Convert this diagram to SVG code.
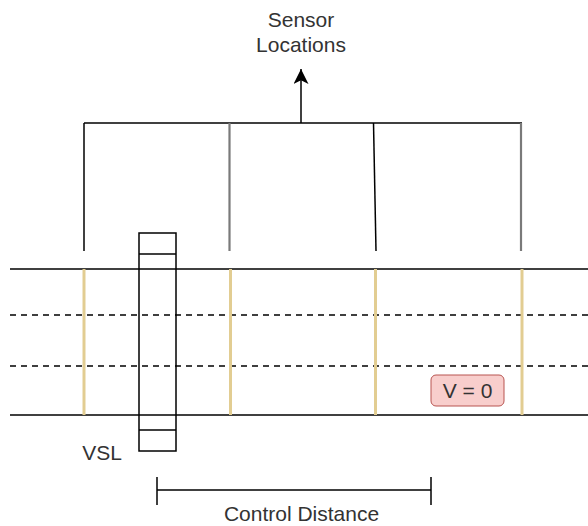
<svg xmlns="http://www.w3.org/2000/svg" width="588" height="526" viewBox="0 0 588 526">
<style>
  .t { font-family: "Liberation Sans", Arial, sans-serif; font-size: 21px; fill: #333333; }
  .blk { stroke: #000000; stroke-width: 1.5; fill: none; }
  .gray { stroke: #7a7a7a; stroke-width: 2.2; fill: none; }
  .dash { stroke: #000000; stroke-width: 1.5; stroke-dasharray: 6 5; fill: none; }
  .yel { stroke: #e2cd92; stroke-width: 3; fill: none; }
</style>
<defs>
  <marker id="arr" markerWidth="15" markerHeight="15" refX="10" refY="5" orient="auto" markerUnits="userSpaceOnUse" viewBox="0 0 10 10">
    <path d="M0,0 L10,5 L0,10 L2.5,5 Z" fill="#000"/>
  </marker>
</defs>
<rect width="588" height="526" fill="#ffffff"/>
<g id="road">
  <line class="blk" x1="10" y1="269" x2="588" y2="269"/>
  <line class="blk" x1="10" y1="415" x2="588" y2="415"/>
  <line class="dash" x1="10" y1="315" x2="588" y2="315"/>
  <line class="dash" x1="10" y1="366" x2="588" y2="366"/>
</g>
<g id="detectors">
  <line class="yel" x1="84" y1="269" x2="84" y2="415"/>
  <line class="yel" x1="230.5" y1="269" x2="230.5" y2="415"/>
  <line class="yel" x1="375.5" y1="269" x2="375.5" y2="415"/>
  <line class="yel" x1="522" y1="269" x2="522" y2="415"/>
</g>
<g id="vsl">
  <rect x="139" y="233" width="37" height="218" fill="none" stroke="#000" stroke-width="1.5"/>
  <line class="blk" x1="139" y1="254" x2="176" y2="254"/>
  <line class="blk" x1="139" y1="430" x2="176" y2="430"/>
  <text class="t" x="102" y="460" text-anchor="middle">VSL</text>
</g>
<g id="v0">
  <rect x="431" y="375" width="73" height="31" rx="5" fill="#f8cecc" stroke="#b85450" stroke-width="1"/>
  <text class="t" x="467.5" y="398" text-anchor="middle">V = 0</text>
</g>
<g id="sensor-label">
  <text class="t" x="301" y="27" text-anchor="middle">Sensor</text>
  <text class="t" x="301" y="52" text-anchor="middle">Locations</text>
</g>
<g id="connectors">
  <line class="blk" x1="84" y1="123" x2="522" y2="123"/>
  <line class="blk" x1="84" y1="123" x2="84" y2="251"/>
  <line class="gray" x1="229.5" y1="123" x2="229.5" y2="251"/>
  <line class="blk" x1="373.5" y1="123" x2="376" y2="251"/>
  <line class="gray" x1="521" y1="123" x2="521" y2="251"/>
  <line class="blk" x1="301" y1="123" x2="301" y2="69" marker-end="url(#arr)"/>
</g>
<g id="control-distance">
  <line class="blk" x1="157" y1="490" x2="431" y2="490"/>
  <line class="blk" x1="157" y1="477" x2="157" y2="505"/>
  <line class="blk" x1="431" y1="477" x2="431" y2="505"/>
  <text class="t" x="301.5" y="521" text-anchor="middle">Control Distance</text>
</g>
</svg>
